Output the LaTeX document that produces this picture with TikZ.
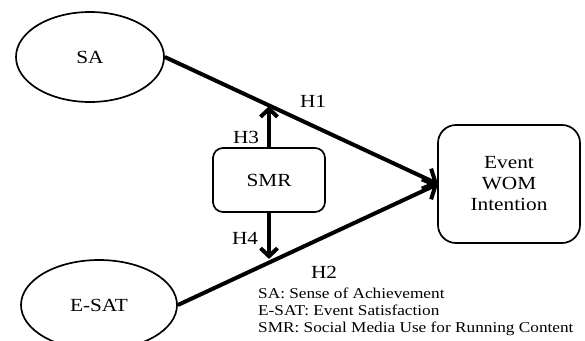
\documentclass[tikz,border=0pt]{standalone}
\usepackage{fontspec}
\setmainfont{Liberation Serif}[FakeStretch=1.15]
\usetikzlibrary{shapes.geometric,arrows.meta,calc}
\begin{document}
\begin{tikzpicture}[x=1pt,y=-1pt,
  lat/.style={draw,ellipse,line width=1.7pt,inner sep=0pt,font=\fontsize{18.5}{22}\selectfont},
  obs/.style={draw,rectangle,line width=1.7pt,inner sep=0pt,font=\fontsize{18.5}{22}\selectfont,align=center},
  path/.style={line width=4pt,-{Straight Barb[length=10pt,width=22pt,line width=4pt]}},
  modpath/.style={line width=4pt,-{Straight Barb[length=8pt,width=17pt,line width=4pt]}},
  hlab/.style={font=\fontsize{18.5}{22}\selectfont,inner sep=0pt}]
\useasboundingbox (0,0) rectangle (585,340);
\node[lat,minimum width=148pt,minimum height=90pt] (SA) at (90,57) {SA};
\node[lat,minimum width=156pt,minimum height=90pt] (ES) at (99,305) {E-SAT};
\node[obs,rounded corners=10pt,minimum width=112pt,minimum height=64pt] (SMR) at (269,180) {SMR};
\node[obs,rounded corners=18pt,minimum width=142pt,minimum height=118pt] (EV) at (509,184) {Event\\[-1pt]WOM\\[-1pt]Intention};
\coordinate (tip) at (438,184);
\coordinate (m1) at ($(SA.east)!0.387!(tip)$);
\coordinate (m2) at ($(ES.east)!0.356!(tip)$);
\draw[path] (SA.east) -- (tip);
\draw[path] (ES.east) -- (tip);
\draw[modpath] (SMR.north) -- (SMR.north |- m1);
\draw[modpath] (SMR.south) -- ($(SMR.south |- m2)+(0,-3)$);
\node[hlab] (h1) at (313,101) {H1};
\node[hlab] (h3) at (246,137) {H3};
\node[hlab] (h4) at (245,238) {H4};
\node[hlab] (h2) at (324,272) {H2};
\node[anchor=north west,inner sep=0pt,align=left,font=\fontsize{15}{17}\selectfont] (leg) at (258,288)
 {SA: Sense of Achievement\\E-SAT: Event Satisfaction\\SMR: Social Media Use for Running Content};
\end{tikzpicture}
\end{document}
